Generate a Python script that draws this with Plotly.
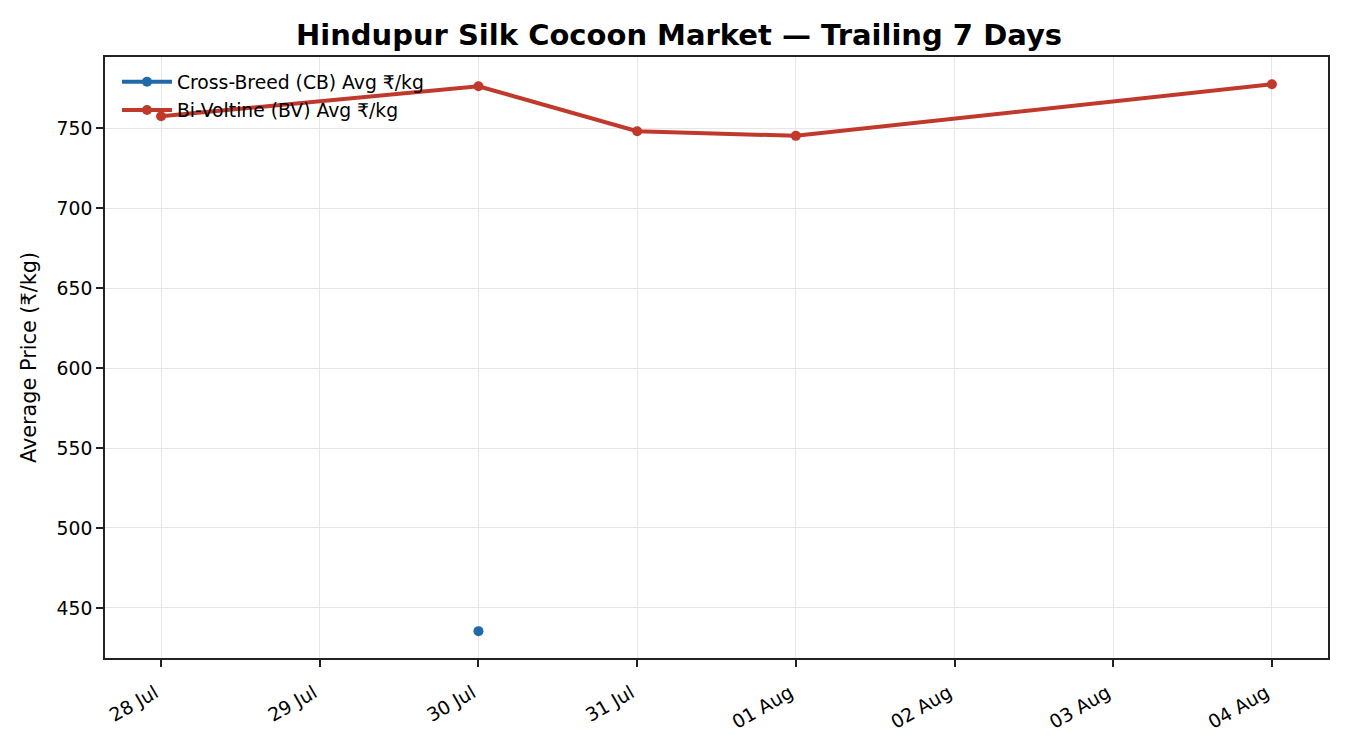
import plotly.graph_objects as go

dates = ["2025-07-28", "2025-07-29", "2025-07-30", "2025-07-31", "2025-08-01", "2025-08-02", "2025-08-03", "2025-08-04"]
cb_dates = ["2025-07-30"]
cb_values = [435.5]
bv_dates = ["2025-07-28", "2025-07-30", "2025-07-31", "2025-08-01", "2025-08-04"]
bv_values = [757.5, 776.2, 748.1, 745.2, 777.5]
tick_labels = ["28 Jul", "29 Jul", "30 Jul", "31 Jul", "01 Aug", "02 Aug", "03 Aug", "04 Aug"]
y_ticks = [450, 500, 550, 600, 650, 700, 750]

fig = go.Figure()
fig.add_trace(go.Scatter(x=cb_dates, y=cb_values, mode="lines+markers",
                         name="Cross-Breed (CB) Avg ₹/kg", legendgroup="cb",
                         line=dict(color="#1f6aa8", width=4),
                         marker=dict(size=10, color="#1f6aa8")))
fig.add_trace(go.Scatter(x=bv_dates, y=bv_values, mode="lines+markers",
                         name="Bi-Voltine (BV) Avg ₹/kg", legendgroup="bv",
                         line=dict(color="#c0392b", width=4),
                         marker=dict(size=10, color="#c0392b")))

fig.update_layout(
    width=1342, height=742,
    paper_bgcolor="white", plot_bgcolor="white",
    font=dict(family="DejaVu Sans", size=19, color="black"),
    title=dict(text="<b>Hindupur Silk Cocoon Market — Trailing 7 Days</b>",
               x=0.5, xanchor="center", y=0.9636, yanchor="middle",
               font=dict(size=29, family="DejaVu Sans")),
    margin=dict(l=97, r=22, t=49, b=92),
    showlegend=True,
    legend=dict(x=0.0098, y=0.990, xanchor="left", yanchor="top",
                bgcolor="rgba(255,255,255,0)", borderwidth=0,
                font=dict(size=18.75), traceorder="grouped", tracegroupgap=1,
                itemwidth=50),
)
fig.update_xaxes(
    type="date",
    range=["2025-07-27 15:31", "2025-08-04 08:29"],
    tickmode="array", tickvals=dates, ticktext=tick_labels,
    tickangle=-30, tickfont=dict(size=18.75),
    ticklabelstandoff=8, ticklabelshift=-6,
    ticks="outside", ticklen=7, tickwidth=1.8, tickcolor="#222",
    showline=True, linecolor="#222", linewidth=1.8, mirror=True,
    showgrid=True, gridcolor="#e6e6e6", gridwidth=1.2, zeroline=False,
)
fig.update_yaxes(
    range=[418.7, 794.5],
    tickmode="array", tickvals=y_ticks,
    title=dict(text="Average Price (₹/kg)", font=dict(size=20.8), standoff=14),
    tickfont=dict(size=18.75),
    ticks="outside", ticklen=7, tickwidth=1.8, tickcolor="#222",
    showline=True, linecolor="#222", linewidth=1.8, mirror=True,
    showgrid=True, gridcolor="#e6e6e6", gridwidth=1.2, zeroline=False,
)
fig.write_html("out.html")
